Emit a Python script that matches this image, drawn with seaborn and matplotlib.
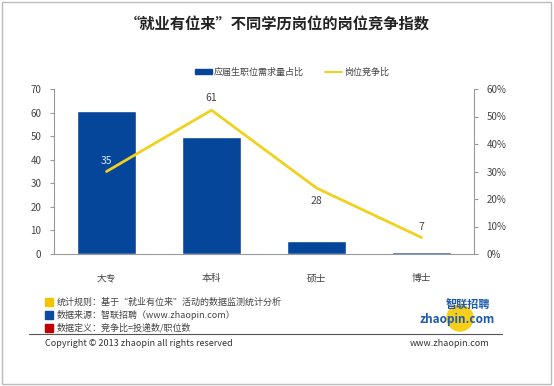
import matplotlib
matplotlib.use('agg')
import matplotlib.pyplot as plt
from matplotlib.patches import Rectangle, Ellipse
from matplotlib.lines import Line2D
from matplotlib.ticker import FuncFormatter
import seaborn as sns

# Data
edu_levels = ['大专', '本科', '硕士', '博士']
demand_share = [52.0, 42.4, 4.9, 0.7]      # 应届生职位需求量占比 (%), right axis
competition = [35, 61, 28, 7]               # 岗位竞争比, left axis
ratio_labels = ['35', '61', '28', '7']

footnotes = ['统计规则：基于“就业有位来”活动的数据监测统计分析',
             '数据来源：智联招聘（www.zhaopin.com）',
             '数据定义：竞争比=投递数/职位数']
footnote_colors = ['#F5C400', '#0A4C9E', '#C00000']

BLUE = '#06469A'
YELLOW = '#F0D21E'
GREY = '#444444'

sns.set_theme(style='white')
plt.rcParams['font.family'] = ['Noto Sans CJK SC', 'DejaVu Sans']
plt.rcParams['axes.unicode_minus'] = False

W, H = 554, 386
fig = plt.figure(figsize=(W / 100, H / 100), dpi=100)

def fx(px):
    return px / W

def fy(py):
    return 1 - py / H

ax = fig.add_axes([fx(54), fy(254), fx(474) - fx(54), fy(89) - fy(254)])
ax2 = ax.twinx()

# bars on the right (percent) axis
sns.barplot(x=edu_levels, y=demand_share, ax=ax2, color=BLUE, width=0.57,
            saturation=1, errorbar=None)
# competition ratio line on the left axis, drawn above the bars
sns.pointplot(x=edu_levels, y=competition, ax=ax, color=YELLOW, markers='',
              linewidth=2, errorbar=None)
ax.set_zorder(ax2.get_zorder() + 1)
ax.patch.set_visible(False)

ax.set_ylim(0, 70)
ax.set_yticks(range(0, 71, 10))
ax2.set_ylim(0, 60)
ax2.set_yticks(range(0, 61, 10))
ax2.yaxis.set_major_formatter(FuncFormatter(lambda v, p: f'{int(v)}%'))
ax.set_xlim(-0.5, 3.5)
ax.set_xlabel('')
ax.set_ylabel('')
ax2.set_ylabel('')

for a in (ax, ax2):
    for s in a.spines.values():
        s.set_visible(False)
ax.spines['left'].set_visible(True)
ax.spines['bottom'].set_visible(True)
ax2.spines['right'].set_visible(True)
for s in (ax.spines['left'], ax.spines['bottom'], ax2.spines['right']):
    s.set_color('#999999')
    s.set_linewidth(0.8)

ax.tick_params(axis='y', left=True, length=3, width=0.8, color='#999999',
               labelsize=7, labelcolor=GREY, pad=6)
ax2.tick_params(axis='y', right=True, length=3, width=0.8, color='#999999',
                labelsize=7, labelcolor=GREY, pad=6)
ax.tick_params(axis='x', bottom=False, labelsize=7, labelcolor=GREY, pad=8)

# data labels
offsets = [(0, 4, '#D6E6F8'), (0, 5, GREY), (0, -6, GREY), (0, 4, GREY)]
for i, (lab, val) in enumerate(zip(ratio_labels, competition)):
    dx, dy, col = offsets[i]
    va = 'bottom' if dy > 0 else 'top'
    ax.annotate(lab, (i, val), xytext=(dx, dy), textcoords='offset points',
                ha='center', va=va, fontsize=7.5, color=col)

# title
fig.text(0.5, fy(25), '“就业有位来”不同学历岗位的岗位竞争指数', ha='center',
         va='center', fontsize=11, fontweight='bold', color='#222222')

# legend
fig.patches.append(Rectangle((fx(195), fy(74)), fx(17), fy(69) - fy(74),
                             transform=fig.transFigure, color=BLUE))
fig.text(fx(214), fy(72), '应届生职位需求量占比', ha='left', va='center',
         fontsize=6.5, color=GREY)
fig.lines.append(Line2D([fx(325), fx(342)], [fy(72), fy(72)],
                        transform=fig.transFigure, color=YELLOW, lw=1.5))
fig.text(fx(344), fy(72), '岗位竞争比', ha='left', va='center',
         fontsize=6.5, color=GREY)

# footnotes
for k, (txt, col) in enumerate(zip(footnotes, footnote_colors)):
    yc = 302 + k * 13
    fig.patches.append(Rectangle((fx(45), fy(yc + 4)), fx(8), fy(yc - 4) - fy(yc + 4),
                                 transform=fig.transFigure, color=col))
    fig.text(fx(57), fy(yc), txt, ha='left', va='center', fontsize=6.5,
             color=GREY)

fig.lines.append(Line2D([fx(29), fx(502)], [fy(334), fy(334)],
                        transform=fig.transFigure, color='#555555', lw=0.8))
fig.text(fx(45), fy(343), 'Copyright © 2013 zhaopin all rights reserved',
         ha='left', va='center', fontsize=6.5, color='#333333')
fig.text(fx(489), fy(343), 'www.zhaopin.com', ha='right', va='center',
         fontsize=6.5, color='#333333')

# logo
fig.patches.append(Ellipse((fx(460), fy(318)), fx(26), fy(0) - fy(26),
                           transform=fig.transFigure, color='#F7CF1A'))
fig.text(fx(457), fy(319), 'zhaopin.com', ha='center', va='center',
         fontsize=8.5, fontweight='bold', fontstyle='italic', color='#1E5AB0')
fig.text(fx(490), fy(305), '智联招聘', ha='right', va='center',
         fontsize=8, fontweight='bold', fontstyle='italic', color='#1E5AB0')

# outer frame
fig.patches.append(Rectangle((fx(2), fy(384)), fx(549), fy(2) - fy(384),
                             transform=fig.transFigure, fill=False,
                             edgecolor='#BBBBBB', lw=1))

fig.savefig('out.png', dpi=100)
